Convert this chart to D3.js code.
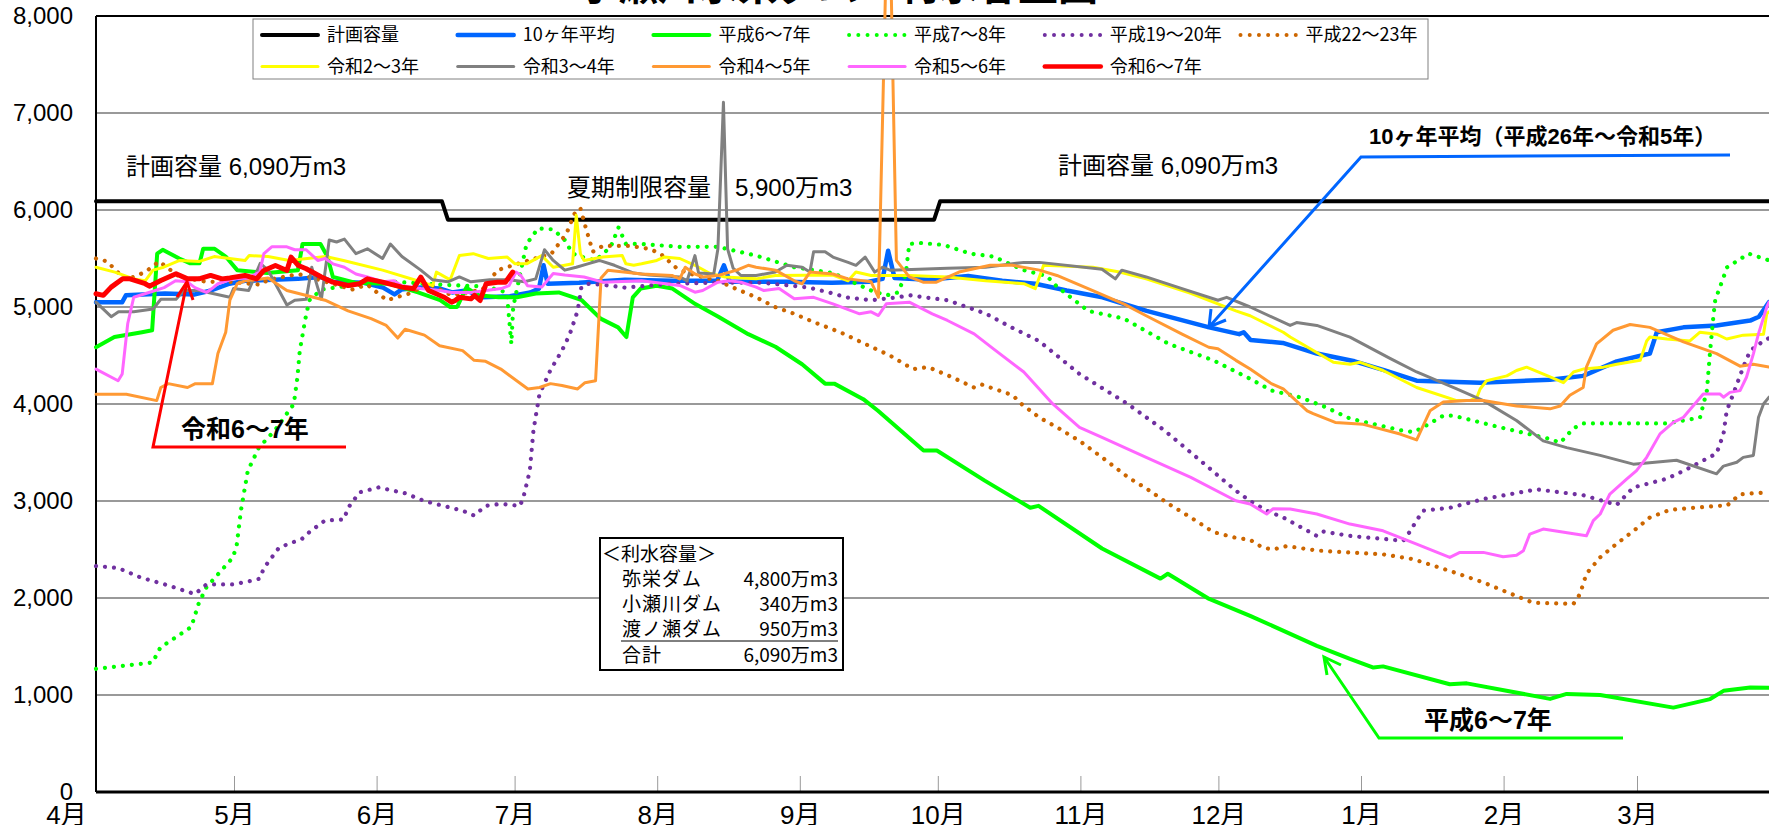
<!DOCTYPE html>
<html>
<head>
<meta charset="utf-8">
<script src="https://d3js.org/d3.v7.min.js"></script>
<style>
  body { margin: 0; background: #fff; }
  svg { display: block; }
</style>
</head>
<body>
<script>
// x values are days counted from 4/1, y values are 万m3

var monthLabels = ["4月", "5月", "6月", "7月", "8月", "9月", "10月", "11月", "12月", "1月", "2月", "3月"];
var monthStartDays = [0, 30, 61, 91, 122, 153, 183, 214, 244, 275, 306, 335];
var yTicks = [0, 1000, 2000, 3000, 4000, 5000, 6000, 7000, 8000];

var planCapacity = [[0, 6090], [75.2, 6090], [76.5, 5900], [182.2, 5900], [183.5, 6090], [366, 6090]];

var avg10 = [[0,5050],[5.7,5050],[6.5,5120],[15,5140],[21.5,5130],[25,5170],[29,5240],[32.4,5270],[43.9,5290],[48.8,5310],[51.6,5260],[58.2,5250],[62.4,5200],[64.9,5130],[66.4,5180],[70.6,5200],[74.8,5190],[77.4,5150],[80.5,5170],[84,5100],[90,5110],[94.4,5150],[96.3,5190],[97.3,5430],[98.2,5240],[105,5250],[115,5280],[125,5270],[135,5270],[136.5,5430],[137.8,5260],[150,5260],[160,5250],[168,5260],[171,5290],[172.2,5580],[173.6,5300],[181,5280],[189.6,5320],[197,5270],[204.2,5240],[211,5170],[218.8,5100],[228.4,4960],[242,4790],[248.5,4720],[249.5,4740],[251,4660],[258,4630],[265.4,4520],[273.6,4440],[280,4350],[287.1,4240],[300.9,4220],[316.1,4250],[323.3,4290],[330.6,4440],[337.8,4520],[339.3,4740],[345.1,4790],[352.3,4810],[359.6,4860],[361.5,4900],[363.7,5050]];

var h06 = [[0,4585],[4,4690],[10,4740],[12.2,4760],[13.3,5550],[14.5,5590],[18.1,5500],[20.5,5450],[22.5,5450],[23.3,5600],[25.8,5600],[28.2,5520],[30.7,5380],[37.2,5350],[43.9,5380],[44.9,5650],[48.8,5650],[50.3,5520],[51.5,5310],[56.3,5250],[63.8,5240],[70,5150],[74.8,5070],[77,5000],[78.5,5000],[80.5,5200],[83.2,5120],[87.5,5100],[91.5,5100],[95.6,5140],[100.6,5150],[105.6,5070],[109.7,4880],[113.5,4790],[115.3,4690],[116.7,5100],[118.4,5190],[121.9,5220],[125.3,5190],[130.3,5030],[135.3,4900],[141.8,4720],[147.7,4590],[153.5,4410],[158.5,4210],[160.5,4210],[166.8,4050],[170,3930],[179.9,3520],[182.8,3520],[193.2,3210],[203.1,2930],[204.9,2950],[218.7,2510],[231.4,2200],[233,2250],[242,1990],[250.9,1816],[265.4,1507],[272.6,1372],[277.7,1283],[279.8,1295],[294.3,1111],[298,1120],[316.1,960],[319.7,1011],[327,1000],[342.9,870],[350.9,958],[353.8,1043],[359.6,1077],[363.7,1075]];

var h07 = [[0,1270],[12.3,1335],[14,1490],[20.7,1700],[22.3,1940],[24,2110],[29.8,2420],[30.6,2550],[31.5,2900],[33,3310],[35.4,3550],[38.9,3730],[43,4000],[43.8,4280],[44.3,4550],[45.6,4900],[46.4,5070],[49,5180],[55,5220],[65,5260],[75,5230],[85,5210],[89.3,5150],[90.3,4620],[90.7,5000],[93.6,5650],[96.1,5810],[99.4,5800],[101.9,5690],[103.6,5550],[106.1,5510],[108.6,5480],[111.9,5620],[113.6,5820],[115.2,5650],[118.6,5650],[126.9,5620],[135.2,5620],[143.5,5530],[151.8,5410],[160.2,5350],[168.5,5170],[171.8,5120],[174.3,5150],[176,5330],[176.8,5650],[179.3,5660],[184.3,5640],[190.1,5550],[195.1,5520],[201.7,5380],[206.7,5320],[208.9,5210],[215.7,4960],[223.5,4880],[233.2,4620],[242.9,4450],[250.9,4260],[255.5,4140],[261.7,4070],[267.2,3970],[272.6,3850],[283.5,3730],[286.4,3710],[288.5,3760],[292.9,3880],[295.1,3880],[305.2,3760],[316.1,3640],[318.3,3600],[321.2,3750],[323.3,3800],[330.6,3800],[341.5,3800],[348.7,3860],[350.2,4140],[350.9,4550],[351.6,4900],[352,5070],[354.6,5410],[359.3,5550],[363.7,5480]];

var h19 = [[0,2330],[4.8,2310],[9.8,2210],[15.7,2130],[21.5,2040],[24,2140],[29.8,2140],[34,2180],[35.6,2200],[36.5,2310],[39.8,2520],[44.8,2610],[46.4,2680],[49.8,2800],[53.9,2810],[54.8,2930],[57.3,3090],[61.4,3140],[67.2,3080],[71.4,3000],[79.7,2900],[82.2,2850],[84.7,2950],[88,2970],[92.2,2950],[93,3055],[94.3,3310],[95.1,3730],[96.4,4100],[98.8,4350],[101.3,4550],[103,4720],[104.7,4960],[105.5,5200],[106.8,5240],[110,5230],[115,5200],[125,5240],[135,5250],[145,5250],[155,5200],[160.2,5140],[163,5100],[168.5,5070],[174.3,5100],[177,5120],[180,5100],[185.1,5070],[193.5,4930],[199,4790],[205,4650],[213.8,4310],[224.3,4000],[232.2,3730],[240,3420],[247.7,3110],[250.9,3000],[254.5,2900],[258.1,2830],[265.4,2640],[266.8,2685],[272.6,2640],[284.2,2590],[285.7,2690],[287.1,2800],[288.5,2900],[294.3,2930],[301.6,3020],[313.2,3120],[323.3,3060],[330.6,2960],[332,3030],[334.2,3140],[341.5,3230],[345.1,3310],[352.3,3490],[353.8,3690],[354.5,3930],[355.9,4100],[358.1,4380],[359.6,4550],[362.5,4650],[363.7,4680]];

var h22 = [[0,5500],[2.4,5470],[4.9,5350],[6.6,5280],[10.7,5360],[13.7,5470],[18.2,5310],[24,5260],[29.1,5260],[35.7,5230],[37.4,5280],[44,5340],[50.7,5250],[55.7,5180],[59,5230],[63.2,5070],[68.2,5140],[72.3,5240],[77.3,5120],[84,5180],[87.3,5380],[94,5480],[99,5550],[102.3,5760],[104,5960],[105.3,6020],[106.4,5830],[108,5570],[110.2,5630],[116,5630],[120.2,5600],[122.7,5550],[126,5410],[128.5,5350],[135.2,5270],[138.5,5200],[143.5,5100],[147.6,5000],[151.8,4930],[156.8,4830],[161.8,4740],[168.5,4590],[172.6,4500],[177.6,4360],[180.9,4380],[185.9,4280],[190.9,4170],[192.6,4200],[199.3,4090],[201.2,4000],[205.1,3860],[208.9,3760],[213.8,3620],[218.7,3450],[224.5,3240],[228.3,3130],[233.2,2970],[238,2830],[242.9,2680],[247.8,2620],[250.9,2600],[253.6,2520],[255.9,2500],[258.8,2535],[265.4,2490],[272,2470],[279.8,2450],[286.4,2400],[294.3,2280],[301.6,2160],[308.8,2020],[312.5,1950],[321.2,1940],[322.6,2040],[324,2250],[327,2420],[330.6,2560],[334.2,2690],[337.8,2830],[342.2,2910],[352.3,2950],[354.5,2950],[357.4,3070],[363.7,3090]];

var r02 = [[0,5410],[4.1,5360],[8.2,5290],[10.7,5270],[12.4,5380],[14.7,5410],[18.2,5480],[22.5,5470],[25.7,5520],[32.4,5480],[33.3,5530],[37.4,5520],[42,5480],[49.9,5520],[53.8,5480],[62.3,5380],[70.6,5260],[73.2,5220],[74,5360],[77,5280],[79,5530],[82,5550],[85.3,5500],[89.4,5515],[91.1,5445],[93.6,5445],[96.9,5530],[99.4,5410],[101.9,5430],[103.6,5445],[104.4,5945],[105.3,5550],[106.1,5480],[110.2,5515],[114.4,5530],[115.2,5445],[116.9,5430],[118.6,5445],[121.9,5480],[123.5,5515],[126.9,5500],[130.2,5430],[133.5,5345],[136.8,5310],[143.5,5290],[147.7,5325],[160.2,5330],[163.5,5270],[165.2,5360],[168.5,5325],[176.8,5325],[185.1,5310],[193.4,5270],[201.7,5240],[204.2,5190],[206,5430],[216.7,5410],[222.5,5360],[228.3,5290],[238,5140],[247.8,4960],[250.9,4910],[258.1,4740],[259.6,4690],[269,4430],[272.6,4410],[274.8,4430],[279.8,4345],[287.1,4170],[295.8,4035],[298.7,4035],[300.2,4070],[300.9,4155],[302.3,4240],[306.7,4290],[308.8,4345],[311,4380],[316.1,4280],[319,4220],[321.2,4330],[323.3,4360],[327.7,4380],[330.6,4410],[335.7,4450],[337.1,4650],[337.8,4690],[341.5,4670],[346.5,4650],[348.7,4740],[352.3,4720],[354.5,4670],[358.1,4710],[362.5,4720],[363.2,4930],[363.7,4950]];

var r03 = [[0,5050],[3.3,4900],[4.9,4950],[8.2,4950],[12.4,4980],[14.1,5080],[17.4,5080],[19.1,5170],[22.4,5170],[29.1,5100],[29.9,5190],[33.2,5170],[35.7,5450],[37.4,5380],[39,5240],[41.5,5020],[43.2,5070],[45.7,5080],[46.9,5410],[48.2,5200],[49,5080],[50.7,5690],[52.3,5670],[54,5700],[56.5,5550],[59,5600],[62.3,5500],[64,5650],[66.5,5520],[70.6,5380],[73.2,5280],[76.5,5260],[79,5310],[81.5,5260],[85.6,5280],[89.8,5280],[93.1,5260],[95.6,5290],[97.5,5590],[99.4,5480],[101.9,5380],[104.4,5410],[106.9,5445],[109.4,5480],[112.7,5430],[116.9,5350],[120.2,5330],[126.9,5310],[128.5,5270],[130.2,5530],[131,5350],[134.3,5340],[135.2,5600],[136.4,7110],[137.3,5600],[138.5,5400],[140.2,5325],[143.5,5325],[147.7,5360],[150.2,5430],[153.5,5410],[155.2,5360],[156,5570],[158.5,5570],[160.2,5515],[163.5,5460],[165.2,5430],[167.2,5515],[169.3,5360],[171,5410],[172.6,5380],[185.1,5400],[193.4,5410],[201.7,5460],[205.1,5460],[218.7,5390],[221.6,5290],[223,5380],[228.3,5310],[236.1,5190],[243.9,5070],[245.8,5100],[250.9,5000],[259.6,4810],[261,4840],[265.4,4810],[272.6,4690],[281.3,4470],[287.1,4330],[295.8,4155],[301.6,4035],[308.8,3830],[314.6,3620],[319.7,3550],[327,3470],[334.2,3380],[343.6,3420],[352.3,3280],[353.8,3360],[356.7,3400],[358.1,3450],[360.3,3470],[361.4,3860],[362.5,4000],[363.7,4070]];

var r04 = [[0,4100],[6.6,4100],[13.2,4035],[14.1,4170],[15.7,4210],[19.9,4170],[21.6,4210],[25.3,4210],[26.5,4520],[28.2,4740],[29.1,5070],[30.7,5240],[32.4,5270],[34.8,5280],[37.4,5300],[41.5,5170],[49.8,5070],[54.8,4960],[59.8,4880],[63.1,4810],[65.6,4680],[67.2,4770],[71.4,4710],[74.7,4600],[79.7,4550],[82.2,4450],[84.7,4440],[88,4360],[93.9,4155],[96.4,4170],[98.8,4210],[101.3,4190],[104.7,4155],[106.3,4220],[108.6,4240],[109.8,5300],[111.3,5380],[118.6,5340],[125.2,5325],[126.9,5290],[128.1,5410],[130.2,5340],[131.9,5310],[135.2,5325],[139.3,5380],[141.8,5430],[143.5,5410],[147.7,5380],[151.8,5270],[153.5,5240],[155.2,5360],[160.2,5340],[163.5,5290],[168.5,5260],[170.1,5100],[171.6,8200],[172.9,8200],[174,5480],[176.8,5310],[179.8,5256],[182.7,5256],[187.6,5360],[194.4,5430],[199.2,5430],[205.1,5380],[208.9,5325],[216.7,5170],[223.5,5030],[228.3,4910],[236.1,4720],[241.9,4585],[243.9,4570],[247.8,4450],[250.9,4360],[255.5,4210],[258.1,4155],[263.3,3930],[264.6,3900],[269.4,3810],[275.5,3790],[283.5,3690],[287.1,3630],[290,3930],[292.9,4020],[298,4035],[301.6,4035],[308.8,3980],[316.1,3950],[318.3,3980],[320.4,4090],[323.3,4170],[324,4380],[326.2,4620],[329.8,4760],[333.5,4820],[337.8,4790],[345.1,4640],[352.3,4520],[357.4,4390],[360.3,4410],[363.7,4380]];

var r05 = [[0,4360],[4.8,4240],[5.7,4310],[6.9,4830],[8.2,5100],[11.5,5150],[14.8,5200],[17.3,5270],[19.8,5260],[21.5,5200],[24,5150],[25.2,5190],[26.5,5240],[29.8,5290],[33.1,5300],[35.6,5360],[36.5,5550],[38.2,5620],[41.5,5620],[43.2,5590],[45.7,5590],[48.2,5480],[49.8,5500],[51.5,5445],[54,5410],[56.5,5340],[59,5310],[62.3,5260],[64.8,5270],[66.5,5220],[70.6,5190],[74.8,5170],[77.3,5150],[81.5,5150],[84.8,5170],[88.1,5190],[89.8,5220],[91.3,5360],[92.3,5330],[93.8,5220],[96.9,5205],[99.4,5346],[101.9,5330],[106.1,5310],[110.2,5256],[118.6,5270],[126.9,5222],[130.2,5153],[131.9,5170],[135.2,5256],[137.7,5270],[140.2,5256],[143.5,5205],[145.2,5170],[148.5,5190],[151.8,5084],[156,5100],[160.2,5033],[166,4930],[168.5,4950],[170.1,4912],[171.8,5033],[176.8,5050],[181.8,4930],[185.1,4861],[190.9,4723],[195.1,4568],[201.7,4330],[208,4001],[213.8,3760],[218.7,3656],[228.3,3450],[238,3244],[247.8,3003],[250.9,2969],[254.5,2866],[255.9,2920],[259.6,2918],[265.4,2866],[272.6,2762],[279.8,2693],[287.1,2556],[294.3,2418],[296.5,2470],[301.6,2470],[305.9,2425],[308.8,2440],[310.3,2487],[311.7,2659],[314.6,2711],[324,2641],[325.5,2797],[327,2866],[329.1,3072],[332.8,3227],[334.9,3313],[337.1,3450],[340,3692],[342.9,3811],[345.1,3863],[349.4,4104],[353,4104],[353.8,4070],[355.2,4120],[357.4,4138],[358.8,4276],[360.3,4517],[361.4,4723],[363.2,4998],[363.7,5050]];

var r06 = [[0,5136],[1.6,5120],[3.3,5205],[5.8,5291],[7.4,5291],[10.7,5240],[11.6,5215],[14.1,5274],[17.4,5343],[19.9,5290],[22.4,5290],[24.9,5325],[27.4,5290],[29.1,5300],[32.4,5325],[34.9,5290],[36.5,5377],[39,5428],[41.5,5377],[42.4,5514],[44,5428],[45.7,5394],[49,5310],[51.5,5256],[54.8,5222],[57.3,5240],[59,5290],[62.3,5256],[66.5,5205],[69,5188],[70.6,5308],[72.3,5170],[75.7,5101],[77.3,5050],[78.1,5067],[79,5101],[81.5,5084],[82.3,5120],[83.5,5067],[84.8,5240],[87.3,5256],[89,5256],[90.6,5360]];

var series = [
  { name: "計画容量",     data: planCapacity, color: "#000000", width: 4,   dotted: false },
  { name: "10ヶ年平均",   data: avg10,        color: "#0066ff", width: 4.5, dotted: false },
  { name: "平成6～7年",   data: h06,          color: "#00ff00", width: 4,   dotted: false },
  { name: "平成7～8年",   data: h07,          color: "#00ff00", width: 4.2, dotted: true },
  { name: "平成19～20年", data: h19,          color: "#7030a0", width: 4.2, dotted: true },
  { name: "平成22～23年", data: h22,          color: "#cc6600", width: 4.2, dotted: true },
  { name: "令和2～3年",   data: r02,          color: "#ffff00", width: 3,   dotted: false },
  { name: "令和3～4年",   data: r03,          color: "#808080", width: 3,   dotted: false },
  { name: "令和4～5年",   data: r04,          color: "#ff9933", width: 3,   dotted: false },
  { name: "令和5～6年",   data: r05,          color: "#ff66ff", width: 3,   dotted: false },
  { name: "令和6～7年",   data: r06,          color: "#ff0000", width: 5,   dotted: false }
];

var W = 1769, H = 825;
var plotLeft = 96, plotTop = 16, plotBottom = 792;
var pxPerDay = 4.6;

var svg = d3.select("body").append("svg")
  .attr("width", W).attr("height", H)
  .style("font-family", "'Noto Sans CJK JP', sans-serif");

var x = d3.scaleLinear().domain([0, 366]).range([plotLeft, plotLeft + 366 * pxPerDay]);
var y = d3.scaleLinear().domain([0, 8000]).range([plotBottom, plotTop]);

// title (mostly cut off at the top of the picture)
svg.append("text")
  .attr("x", 838).attr("y", 0)
  .attr("text-anchor", "middle")
  .style("font-size", "40px").style("font-weight", "bold")
  .text("小瀬川水系ダム　利水容量図");

// grid
svg.append("g").selectAll("line")
  .data(yTicks.filter(function (d) { return d > 0 && d < 8000; }))
  .join("line")
  .attr("x1", plotLeft).attr("x2", W)
  .attr("y1", function (d) { return y(d); }).attr("y2", function (d) { return y(d); })
  .attr("stroke", "#999").attr("stroke-width", 2);

// y axis labels
var yAxis = svg.append("g")
  .attr("transform", "translate(" + plotLeft + ",0)")
  .call(d3.axisLeft(y).tickValues(yTicks).tickFormat(d3.format(",")).tickSize(0).tickPadding(23));
yAxis.select(".domain").remove();
yAxis.selectAll("text")
  .style("font-family", "'Liberation Sans', Arial, sans-serif")
  .style("font-size", "24px").attr("fill", "#000");

// x axis: month ticks pointing up into the plot
var xAxis = svg.append("g")
  .attr("transform", "translate(0," + plotBottom + ")")
  .call(d3.axisBottom(x).tickValues(monthStartDays)
    .tickFormat(function (d, i) { return monthLabels[i]; })
    .tickSizeInner(-16).tickSizeOuter(0).tickPadding(14));
xAxis.select(".domain").remove();
xAxis.selectAll("line").attr("stroke", "#999").attr("stroke-width", 1);
xAxis.selectAll("text")
  .style("font-family", "'Liberation Sans', 'Noto Sans CJK JP', sans-serif")
  .style("font-size", "26px").attr("fill", "#000");
xAxis.selectAll(".tick").filter(function (d) { return d === 0; })
  .select("text").attr("x", -30);

// frame
svg.append("line").attr("x1", plotLeft).attr("x2", W).attr("y1", plotTop).attr("y2", plotTop)
  .attr("stroke", "#000").attr("stroke-width", 2);
svg.append("line").attr("x1", plotLeft).attr("x2", plotLeft).attr("y1", plotTop).attr("y2", plotBottom)
  .attr("stroke", "#000").attr("stroke-width", 2);
svg.append("line").attr("x1", plotLeft).attr("x2", W).attr("y1", plotBottom).attr("y2", plotBottom)
  .attr("stroke", "#000").attr("stroke-width", 3);

// series
var line = d3.line().x(function (d) { return x(d[0]); }).y(function (d) { return y(d[1]); });
svg.append("g").selectAll("path")
  .data(series)
  .join("path")
  .attr("d", function (d) { return line(d.data); })
  .attr("fill", "none")
  .attr("stroke", function (d) { return d.color; })
  .attr("stroke-width", function (d) { return d.width; })
  .attr("stroke-dasharray", function (d) { return d.dotted ? "0.01 9" : null; })
  .attr("stroke-linecap", "round")
  .attr("stroke-linejoin", "round");

// legend
var legX0 = 260, legStep = 195.7, legRowY = [35, 66.5];
svg.append("rect")
  .attr("x", 253).attr("y", 19).attr("width", 1175).attr("height", 60)
  .attr("fill", "#fff").attr("stroke", "#808080").attr("stroke-width", 1);
var leg = svg.append("g").selectAll("g")
  .data(series)
  .join("g")
  .attr("transform", function (d, i) {
    var col = i < 6 ? i : i - 6, row = i < 6 ? 0 : 1;
    return "translate(" + (legX0 + col * legStep) + "," + legRowY[row] + ")";
  });
leg.append("line")
  .attr("x1", 2).attr("x2", 58).attr("y1", 0).attr("y2", 0)
  .attr("stroke", function (d) { return d.color; })
  .attr("stroke-width", function (d) { return d.dotted ? 4 : Math.min(d.width, 4.5); })
  .attr("stroke-dasharray", function (d) { return d.dotted ? "0.01 9.2" : null; })
  .attr("stroke-linecap", "round");
leg.append("text")
  .attr("x", 67).attr("y", 0).attr("dy", "0.36em")
  .style("font-size", "18px")
  .text(function (d) { return d.name; });

// annotations
function label(txt, lx, ly, size, bold) {
  svg.append("text").attr("x", lx).attr("y", ly)
    .style("font-family", "'Liberation Sans', 'Noto Sans CJK JP', sans-serif")
    .style("font-size", size + "px").style("font-weight", bold ? "bold" : "normal")
    .text(txt);
}
label("計画容量 6,090万m3", 126, 175, 24, false);
label("計画容量 6,090万m3", 1058, 174, 24, false);
label("夏期制限容量　5,900万m3", 567, 196, 24, false);
label("10ヶ年平均（平成26年～令和5年）", 1369, 144, 22, true);
label("令和6～7年", 181, 438, 25, true);
label("平成6～7年", 1424, 729, 25, true);

function pointer(pts, barbs, color) {
  svg.append("path").attr("d", d3.line()(pts))
    .attr("fill", "none").attr("stroke", color).attr("stroke-width", 3);
  var tip = pts[pts.length - 1];
  svg.append("path").attr("d", d3.line()([barbs[0], tip, barbs[1]]))
    .attr("fill", "none").attr("stroke", color).attr("stroke-width", 3);
}
pointer([[1730, 155], [1361, 157], [1209, 327]], [[1211, 309], [1226, 320]], "#0066ff");
pointer([[346, 447], [153, 447], [187, 282]], [[177, 297], [193, 300]], "#ff0000");
pointer([[1623, 738], [1379, 738], [1324, 657]], [[1327, 675], [1341, 665]], "#00ff00");

// capacity box
var box = svg.append("g");
box.append("rect").attr("x", 600).attr("y", 538).attr("width", 243).attr("height", 132)
  .attr("fill", "#fff").attr("stroke", "#000").attr("stroke-width", 2);
var boxRows = [["弥栄ダム", "4,800万m3", 586], ["小瀬川ダム", "340万m3", 611], ["渡ノ瀬ダム", "950万m3", 636], ["合計", "6,090万m3", 662]];
box.append("text").attr("x", 602).attr("y", 561).style("font-size", "19px").text("＜利水容量＞");
boxRows.forEach(function (r) {
  box.append("text").attr("x", 622).attr("y", r[2]).style("font-size", "19px")
    .style("letter-spacing", "1px").text(r[0]);
  box.append("text").attr("x", 838).attr("y", r[2]).attr("text-anchor", "end")
    .style("font-size", "19px").text(r[1]);
});
box.append("line").attr("x1", 621).attr("x2", 838).attr("y1", 641).attr("y2", 641)
  .attr("stroke", "#000").attr("stroke-width", 1);
</script>
</body>
</html>
